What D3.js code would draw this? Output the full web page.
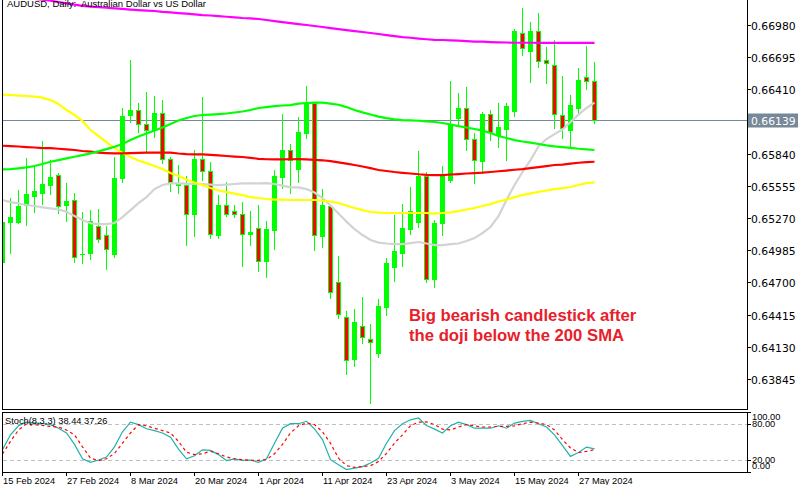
<!DOCTYPE html>
<html><head><meta charset="utf-8">
<script src="https://cdn.jsdelivr.net/npm/d3@7"></script>
<style>body{margin:0;background:#fff}svg{display:block}</style>
</head><body><svg id="c" width="800" height="485"></svg>
<script>
// ---- DATA ----
const firstDay = new Date(2024, 1, 15), lastDay = new Date(2024, 4, 29);
const open = [0.64883,0.65238,0.65238,0.65386,0.65468,0.65494,0.65563,0.65649,0.65388,0.65427,
0.64949,0.64963,0.65202,0.65117,0.64954,0.65627,0.66183,0.66224,0.66100,0.66050,
0.66198,0.65793,0.65563,0.65563,0.65303,0.65793,0.65684,0.65120,0.65386,0.65330,
0.65306,0.65126,0.65179,0.64887,0.65164,0.65636,0.65873,0.65704,0.66021,0.66286,
0.65114,0.65377,0.64701,0.64396,0.64019,0.64317,0.64196,0.64072,0.64485,0.64839,
0.64963,0.65170,0.65238,0.65645,0.64728,0.65224,0.65607,0.66153,0.66242,0.65967,
0.65775,0.66189,0.66005,0.66059,0.66218,0.66911,0.66752,0.66927,0.66670,0.66625,
0.66183,0.66050,0.66247,0.66516,0.66484];
const high = [0.65245,0.65445,0.65518,0.65799,0.65740,0.65955,0.65784,0.65669,0.65578,0.65489,
0.65326,0.65341,0.65347,0.65200,0.65808,0.66242,0.66670,0.66286,0.66384,0.66351,
0.66315,0.65813,0.65740,0.65642,0.65873,0.66345,0.65764,0.65474,0.65587,0.65386,
0.65409,0.65332,0.65386,0.65244,0.65696,0.66189,0.65926,0.66168,0.66439,0.66300,
0.65527,0.65386,0.64937,0.64449,0.64462,0.64568,0.64332,0.64550,0.64914,0.65297,
0.65392,0.65542,0.65864,0.65680,0.65253,0.65731,0.66486,0.66380,0.66428,0.66021,
0.66212,0.66227,0.66286,0.66292,0.66944,0.67128,0.67009,0.67083,0.66787,0.66847,
0.66528,0.66360,0.66596,0.66794,0.66655];
const low = [0.64870,0.64963,0.65226,0.65208,0.65326,0.65394,0.65483,0.65312,0.65247,0.64883,
0.64869,0.64905,0.65061,0.64816,0.64922,0.65592,0.66123,0.66035,0.65858,0.65990,
0.65755,0.65512,0.65494,0.65031,0.65114,0.65607,0.65096,0.65096,0.65291,0.65282,
0.64848,0.65031,0.64804,0.64751,0.64996,0.65539,0.65492,0.65592,0.65976,0.64987,
0.65016,0.64559,0.64382,0.63889,0.63960,0.64166,0.63629,0.64042,0.64411,0.64715,
0.64845,0.65129,0.65193,0.64706,0.64662,0.65120,0.65592,0.66094,0.65873,0.65578,
0.65666,0.65961,0.65902,0.65784,0.66174,0.66714,0.66478,0.66610,0.66463,0.66065,
0.65976,0.65908,0.66198,0.66413,0.66114];
const close = [0.65238,0.65282,0.65377,0.65483,0.65510,0.65572,0.65634,0.65374,0.65418,0.64922,
0.64954,0.65241,0.65082,0.64993,0.65625,0.66174,0.66227,0.66100,0.66050,0.66200,
0.65793,0.65587,0.65576,0.65303,0.65793,0.65687,0.65126,0.65386,0.65306,0.65303,
0.65126,0.65146,0.64887,0.65173,0.65642,0.65873,0.65784,0.66035,0.66286,0.65120,
0.65386,0.64618,0.64420,0.64013,0.64347,0.64214,0.64170,0.64491,0.64869,0.64976,
0.65179,0.65332,0.65645,0.64728,0.65224,0.65645,0.66094,0.66247,0.65967,0.65784,
0.66189,0.66035,0.66079,0.66262,0.66929,0.66773,0.66927,0.66663,0.66640,0.66189,
0.66065,0.66271,0.66493,0.66486,0.66139];
const smaGrey = [0.65430,0.65412,0.65399,0.65386,0.65377,0.65365,0.65356,0.65346,0.65326,0.65288,
0.65253,0.65224,0.65217,0.65217,0.65226,0.65279,0.65341,0.65403,0.65456,0.65527,
0.65563,0.65578,0.65578,0.65576,0.65572,0.65572,0.65567,0.65563,0.65567,0.65572,
0.65578,0.65578,0.65578,0.65580,0.65572,0.65558,0.65542,0.65542,0.65527,0.65496,
0.65448,0.65381,0.65310,0.65239,0.65173,0.65120,0.65076,0.65053,0.65045,0.65040,
0.65040,0.65049,0.65058,0.65045,0.65031,0.65031,0.65040,0.65045,0.65067,0.65093,
0.65138,0.65191,0.65288,0.65430,0.65563,0.65678,0.65784,0.65904,0.65970,0.66014,
0.66054,0.66121,0.66187,0.66245,0.66292];
const smaYellow = [0.66364,0.66360,0.66355,0.66351,0.66346,0.66337,0.66315,0.66280,0.66227,0.66183,
0.66129,0.66050,0.65997,0.65943,0.65890,0.65846,0.65811,0.65780,0.65757,0.65731,
0.65704,0.65669,0.65642,0.65611,0.65585,0.65563,0.65536,0.65514,0.65501,0.65487,
0.65474,0.65456,0.65448,0.65439,0.65434,0.65434,0.65430,0.65430,0.65430,0.65430,
0.65425,0.65417,0.65403,0.65381,0.65359,0.65341,0.65324,0.65319,0.65315,0.65315,
0.65315,0.65315,0.65315,0.65315,0.65310,0.65315,0.65321,0.65332,0.65346,0.65359,
0.65377,0.65394,0.65417,0.65434,0.65456,0.65474,0.65489,0.65501,0.65514,0.65527,
0.65536,0.65545,0.65563,0.65580,0.65587];
const smaGreen = [0.65702,0.65704,0.65711,0.65719,0.65731,0.65749,0.65769,0.65784,0.65799,0.65813,
0.65828,0.65843,0.65861,0.65881,0.65902,0.65926,0.65961,0.65992,0.66019,0.66045,
0.66072,0.66103,0.66134,0.66156,0.66174,0.66183,0.66187,0.66191,0.66196,0.66205,
0.66214,0.66227,0.66245,0.66253,0.66262,0.66267,0.66271,0.66284,0.66289,0.66292,
0.66292,0.66284,0.66274,0.66253,0.66227,0.66206,0.66187,0.66169,0.66156,0.66145,
0.66138,0.66136,0.66132,0.66127,0.66121,0.66112,0.66099,0.66085,0.66072,0.66059,
0.66045,0.66023,0.65997,0.65979,0.65961,0.65948,0.65939,0.65926,0.65914,0.65905,
0.65899,0.65892,0.65884,0.65879,0.65873];
const smaRed = [0.65911,0.65908,0.65904,0.65899,0.65895,0.65890,0.65890,0.65884,0.65879,0.65873,
0.65864,0.65858,0.65850,0.65846,0.65843,0.65843,0.65846,0.65848,0.65849,0.65849,
0.65849,0.65849,0.65842,0.65837,0.65835,0.65834,0.65830,0.65826,0.65820,0.65815,
0.65811,0.65804,0.65795,0.65791,0.65790,0.65790,0.65791,0.65793,0.65790,0.65786,
0.65782,0.65775,0.65764,0.65753,0.65740,0.65727,0.65713,0.65696,0.65687,0.65678,
0.65671,0.65665,0.65658,0.65653,0.65651,0.65651,0.65656,0.65660,0.65665,0.65669,
0.65672,0.65678,0.65685,0.65691,0.65698,0.65704,0.65713,0.65722,0.65731,0.65740,
0.65744,0.65753,0.65760,0.65765,0.65769];
const smaMagenta = [0.67241,0.67232,0.67225,0.67218,0.67211,0.67204,0.67195,0.67183,0.67172,0.67161,
0.67150,0.67143,0.67139,0.67133,0.67128,0.67123,0.67117,0.67112,0.67108,0.67104,
0.67097,0.67092,0.67086,0.67080,0.67074,0.67068,0.67064,0.67059,0.67053,0.67048,
0.67042,0.67039,0.67033,0.67024,0.67015,0.67006,0.66997,0.66988,0.66980,0.66971,
0.66962,0.66953,0.66944,0.66935,0.66926,0.66918,0.66909,0.66900,0.66891,0.66882,
0.66873,0.66867,0.66860,0.66854,0.66849,0.66847,0.66844,0.66841,0.66838,0.66833,
0.66832,0.66829,0.66827,0.66825,0.66823,0.66823,0.66823,0.66822,0.66822,0.66822,
0.66822,0.66822,0.66822,0.66822,0.66822];
const stochK = [37,62,77,83,82,80.5,79,73,65,46, 22,16,20,25,42,67,83,79,72,69,
65,58,38,22,27,37,36,29,19,22, 19.5,20,16,22,48,73,80.5,80.5,84.5,72,
54,20.5,12,4,6.5,9,15,23,48,69, 80.5,87,90,77.5,71.5,65,77,83,79,73,
73,73,77,73,81.5,84.5,86,80.5,75,62, 44,26,32.5,41.5,38.44];
const stochD = [30,51,70,80.5,79,77.5,76,75,70,62, 42,23,19,22,31,48,65,79,77,73,
69,65,51,33,29,30.5,34.5,30.5,25,22, 20.5,19.5,19.5,20.5,30.5,46,65,77,81.5,79,
67,48,23,10.5,7.7,9,10.5,17.5,31,48, 62,77,83,83.5,79,71.5,70,75,79,77,
75,75,76,76,77,80.5,83,81.5,79,70, 54,40,32.5,34.5,37.26];
const priceTicks = [0.63845,0.64130,0.64415,0.64700,0.64985,0.65270,0.65555,0.65840,0.66410,0.66695,0.66980];
const lastPrice = 0.66139;
const stochTicks = [100, 80, 20, 0];
const stochLevels = [80, 20];
const dateTicks = ["15 Feb 2024","27 Feb 2024","8 Mar 2024","20 Mar 2024","1 Apr 2024","11 Apr 2024","23 Apr 2024","3 May 2024","15 May 2024","27 May 2024"];
const titleText = "AUDUSD, Daily:  Australian Dollar vs US Dollar";
const stochTitle = "Stoch(8,3,3) 38.44 37.26";
const noteLines = ["Big bearish candlestick after", "the doji below the 200 SMA"];

// ---- BUILD ----
const fmt = d3.timeFormat("%-d %b %Y");
const dates = d3.timeDay.range(firstDay, d3.timeDay.offset(lastDay, 1)).filter(d => d.getDay() % 6 !== 0).map(fmt);
const bars = dates.map((d, i) => ({d, o: open[i], h: high[i], l: low[i], c: close[i]}));

const FONT = "'Liberation Sans', Arial, sans-serif";
const AXFONT = "'DejaVu Sans', Verdana, sans-serif";
const svg = d3.select("#c");
const L = 2, R = 747, mainBottom = 409, stTop = 412, stBottom = 472;

const x = d3.scaleBand().domain(dates).range([-1.5, -1.5 + 8 * dates.length]).padding(0);
const cx = d => x(d) + x.bandwidth() / 2;
const y = d3.scaleLinear().domain([0.63845, 0.66980]).range([379, 25]);
const ys = d3.scaleLinear().domain([0, 100]).range([stBottom, stTop]);

const defs = svg.append("defs");
defs.append("clipPath").attr("id", "cm").append("rect").attr("x", L + 1).attr("y", 0).attr("width", R - L - 1).attr("height", mainBottom);
defs.append("clipPath").attr("id", "cs").append("rect").attr("x", L + 1).attr("y", stTop + 1).attr("width", R - L - 1).attr("height", stBottom - stTop - 1);

const gm = svg.append("g").attr("clip-path", "url(#cm)");

// current price line
gm.append("line").attr("x1", L).attr("x2", R).attr("y1", Math.round(y(lastPrice)) + 0.5).attr("y2", Math.round(y(lastPrice)) + 0.5)
  .attr("stroke", "#778899").attr("stroke-width", 1);

// candles
const gc = gm.append("g").attr("shape-rendering", "crispEdges");
bars.forEach(b => {
  const X = cx(b.d);
  gc.append("line").attr("x1", X).attr("x2", X).attr("y1", Math.round(y(b.h))).attr("y2", Math.round(y(b.l)) + 1)
    .attr("stroke", "#00ff00").attr("stroke-width", 1);
  const top = Math.round(y(Math.max(b.o, b.c))), bot = Math.round(y(Math.min(b.o, b.c)));
  const hgt = Math.max(1, bot - top + 1);
  gc.append("rect").attr("x", X - 2.5).attr("y", top).attr("width", 5).attr("height", hgt).attr("fill", "#00ff00");
  if (b.c < b.o && hgt > 2) {
    gc.append("rect").attr("x", X - 1.5).attr("y", top + 1).attr("width", 3).attr("height", hgt - 2).attr("fill", "#ff0000");
  }
});

// moving averages
const mas = [
  {v: smaGrey, c: "#d3d3d3"},
  {v: smaYellow, c: "#ffff00"},
  {v: smaRed, c: "#ff0000"},
  {v: smaGreen, c: "#00ff00"},
  {v: smaMagenta, c: "#ff00ff"}
];
const lineMain = d3.line().x((v, i) => cx(dates[i])).y(v => y(v));
mas.forEach(m => {
  gm.append("path").attr("d", lineMain(m.v)).attr("fill", "none").attr("stroke", m.c).attr("stroke-width", 2.2);
});

// annotation
noteLines.forEach((t, i) => {
  svg.append("text").attr("x", 409).attr("y", 321 + i * 19.5).text(t)
    .attr("font-family", FONT).attr("font-weight", "bold").attr("font-size", "16.7px").attr("fill", "#e8202a");
});

// title
svg.append("text").attr("x", 7).attr("y", 6.5).text(titleText).attr("xml:space", "preserve").style("white-space", "pre")
  .attr("font-family", FONT).attr("font-size", "9.5px").attr("fill", "#000");

// frames
const fr = svg.append("g").attr("shape-rendering", "crispEdges").attr("stroke", "#000").attr("fill", "none");
fr.append("path").attr("d", `M${L + 0.5},0V${mainBottom + 0.5}H${R + 0.5}V0`);
fr.append("rect").attr("x", L + 0.5).attr("y", stTop + 0.5).attr("width", R - L).attr("height", stBottom - stTop);

// right price axis
const ax = svg.append("g");
priceTicks.forEach(t => {
  const yy = Math.round(y(t)) + 0.5;
  ax.append("line").attr("x1", R).attr("x2", R + 4).attr("y1", yy).attr("y2", yy).attr("stroke", "#000").attr("shape-rendering", "crispEdges");
  ax.append("text").attr("x", R + 4).attr("y", yy + 4).text(t.toFixed(5)).attr("font-family", AXFONT).attr("font-size", "10.8px").attr("fill", "#000");
});
// last price label
const ly = Math.round(y(lastPrice)) + 0.5;
ax.append("rect").attr("x", R + 1).attr("y", ly - 7).attr("width", 50).attr("height", 14).attr("fill", "#778899");
ax.append("text").attr("x", R + 4).attr("y", ly + 4).text(lastPrice.toFixed(5)).attr("font-family", AXFONT).attr("font-size", "10.8px").attr("fill", "#fff");

// stochastic panel
const gs = svg.append("g").attr("clip-path", "url(#cs)");
stochLevels.forEach(l => {
  gs.append("line").attr("x1", L + 1).attr("x2", R).attr("y1", ys(l) + 0.5).attr("y2", ys(l) + 0.5)
    .attr("stroke", "#c0c0c0").attr("stroke-dasharray", "4,3").attr("shape-rendering", "crispEdges");
});
const lineS = d3.line().x((v, i) => cx(dates[i])).y(v => ys(v));
gs.append("path").attr("d", lineS(stochK)).attr("fill", "none").attr("stroke", "#20b2aa").attr("stroke-width", 1.2);
gs.append("path").attr("d", lineS(stochD)).attr("fill", "none").attr("stroke", "#ff0000").attr("stroke-width", 1.2).attr("stroke-dasharray", "3,3");
svg.append("text").attr("x", 5).attr("y", 424).text(stochTitle).attr("font-family", FONT).attr("font-size", "9.3px").attr("fill", "#000");
const stLabelY = {100: 420, 80: 426.7, 20: 463.3, 0: 469.3};
stochTicks.forEach(t => {
  const yy = ys(t) + 0.5;
  ax.append("line").attr("x1", R).attr("x2", R + 4).attr("y1", yy).attr("y2", yy).attr("stroke", "#000").attr("shape-rendering", "crispEdges");
  ax.append("text").attr("x", R + 5).attr("y", stLabelY[t]).text(t.toFixed(2)).attr("font-family", FONT).attr("font-size", "9.3px").attr("fill", "#000");
});

// bottom date axis
dateTicks.forEach(t => {
  const X = Math.floor(cx(t)) + 0.5;
  svg.append("line").attr("x1", X).attr("x2", X).attr("y1", stBottom).attr("y2", stBottom + 4).attr("stroke", "#000").attr("shape-rendering", "crispEdges");
  svg.append("text").attr("x", X + 0.5).attr("y", 484).text(t).attr("font-family", FONT).attr("font-size", "9.3px").attr("fill", "#000");
});
</script></body></html>
